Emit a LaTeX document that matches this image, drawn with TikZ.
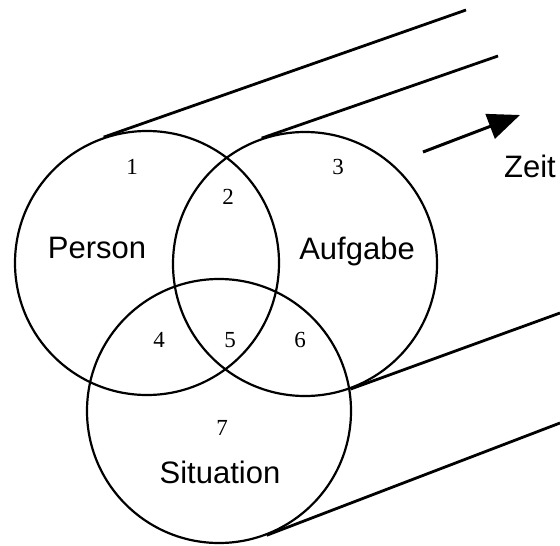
\documentclass[tikz,border=0pt]{standalone}
\usepackage{fontspec}
\setmainfont{Liberation Serif}
\setsansfont{Liberation Sans}
\usetikzlibrary{arrows.meta, positioning}

\begin{document}
\begin{tikzpicture}[
  x=0.5pt, y=-0.5pt,
  set/.style={circle, draw, line width=1.1pt, minimum size=132pt, inner sep=0pt},
  setname/.style={font=\sffamily\fontsize{15.5}{18}\selectfont, anchor=base, inner sep=0pt},
  region/.style={font=\fontsize{11.5}{13}\selectfont, inner sep=0pt},
  tube/.style={line width=1.4pt},
  arrow/.style={-{Triangle[length=16pt, width=13pt]}, line width=1.5pt}
]
\useasboundingbox (0,0) rectangle (560,545);

% Three sets
\node[set] (person)    at (147,263) {};
\node[set] (aufgabe)   at (305,264) {};
\node[set] (situation) at (219,411) {};

% Far ends of the tube lines
\coordinate (personend)    at (466,10);
\coordinate (aufgabeend)   at (498,56);
\coordinate (aufgabelow)   at (560,313);
\coordinate (situationend) at (560,423);

% Tube lines
\draw[tube] (person.109.5)   -- (personend);
\draw[tube] (aufgabe.109.4)  -- (aufgabeend);
\draw[tube] (aufgabe.-70.3)  -- (aufgabelow);
\draw[tube] (situation.-69.1) -- (situationend);

% Set names
\node[setname] (personname)    at (97,258)  {Person};
\node[setname] (aufgabename)   at (357,259) {Aufgabe};
\node[setname] (situationname) at (220,483) {Situation};

% Region numbers
\node[region] (r1) at (132,167) {1};
\node[region] (r2) at (228,197) {2};
\node[region] (r3) at (338,167) {3};
\node[region] (r4) at (159,340) {4};
\node[region] (r5) at (230,340) {5};
\node[region] (r6) at (300,340) {6};
\node[region] (r7) at (222,428) {7};

% Time arrow
\coordinate (zeitstart) at (423,152);
\coordinate (zeittip)   at (520,115);
\draw[arrow] (zeitstart) -- (zeittip);
\node[setname] (zeit) at (530,177) {Zeit};

\end{tikzpicture}
\end{document}
